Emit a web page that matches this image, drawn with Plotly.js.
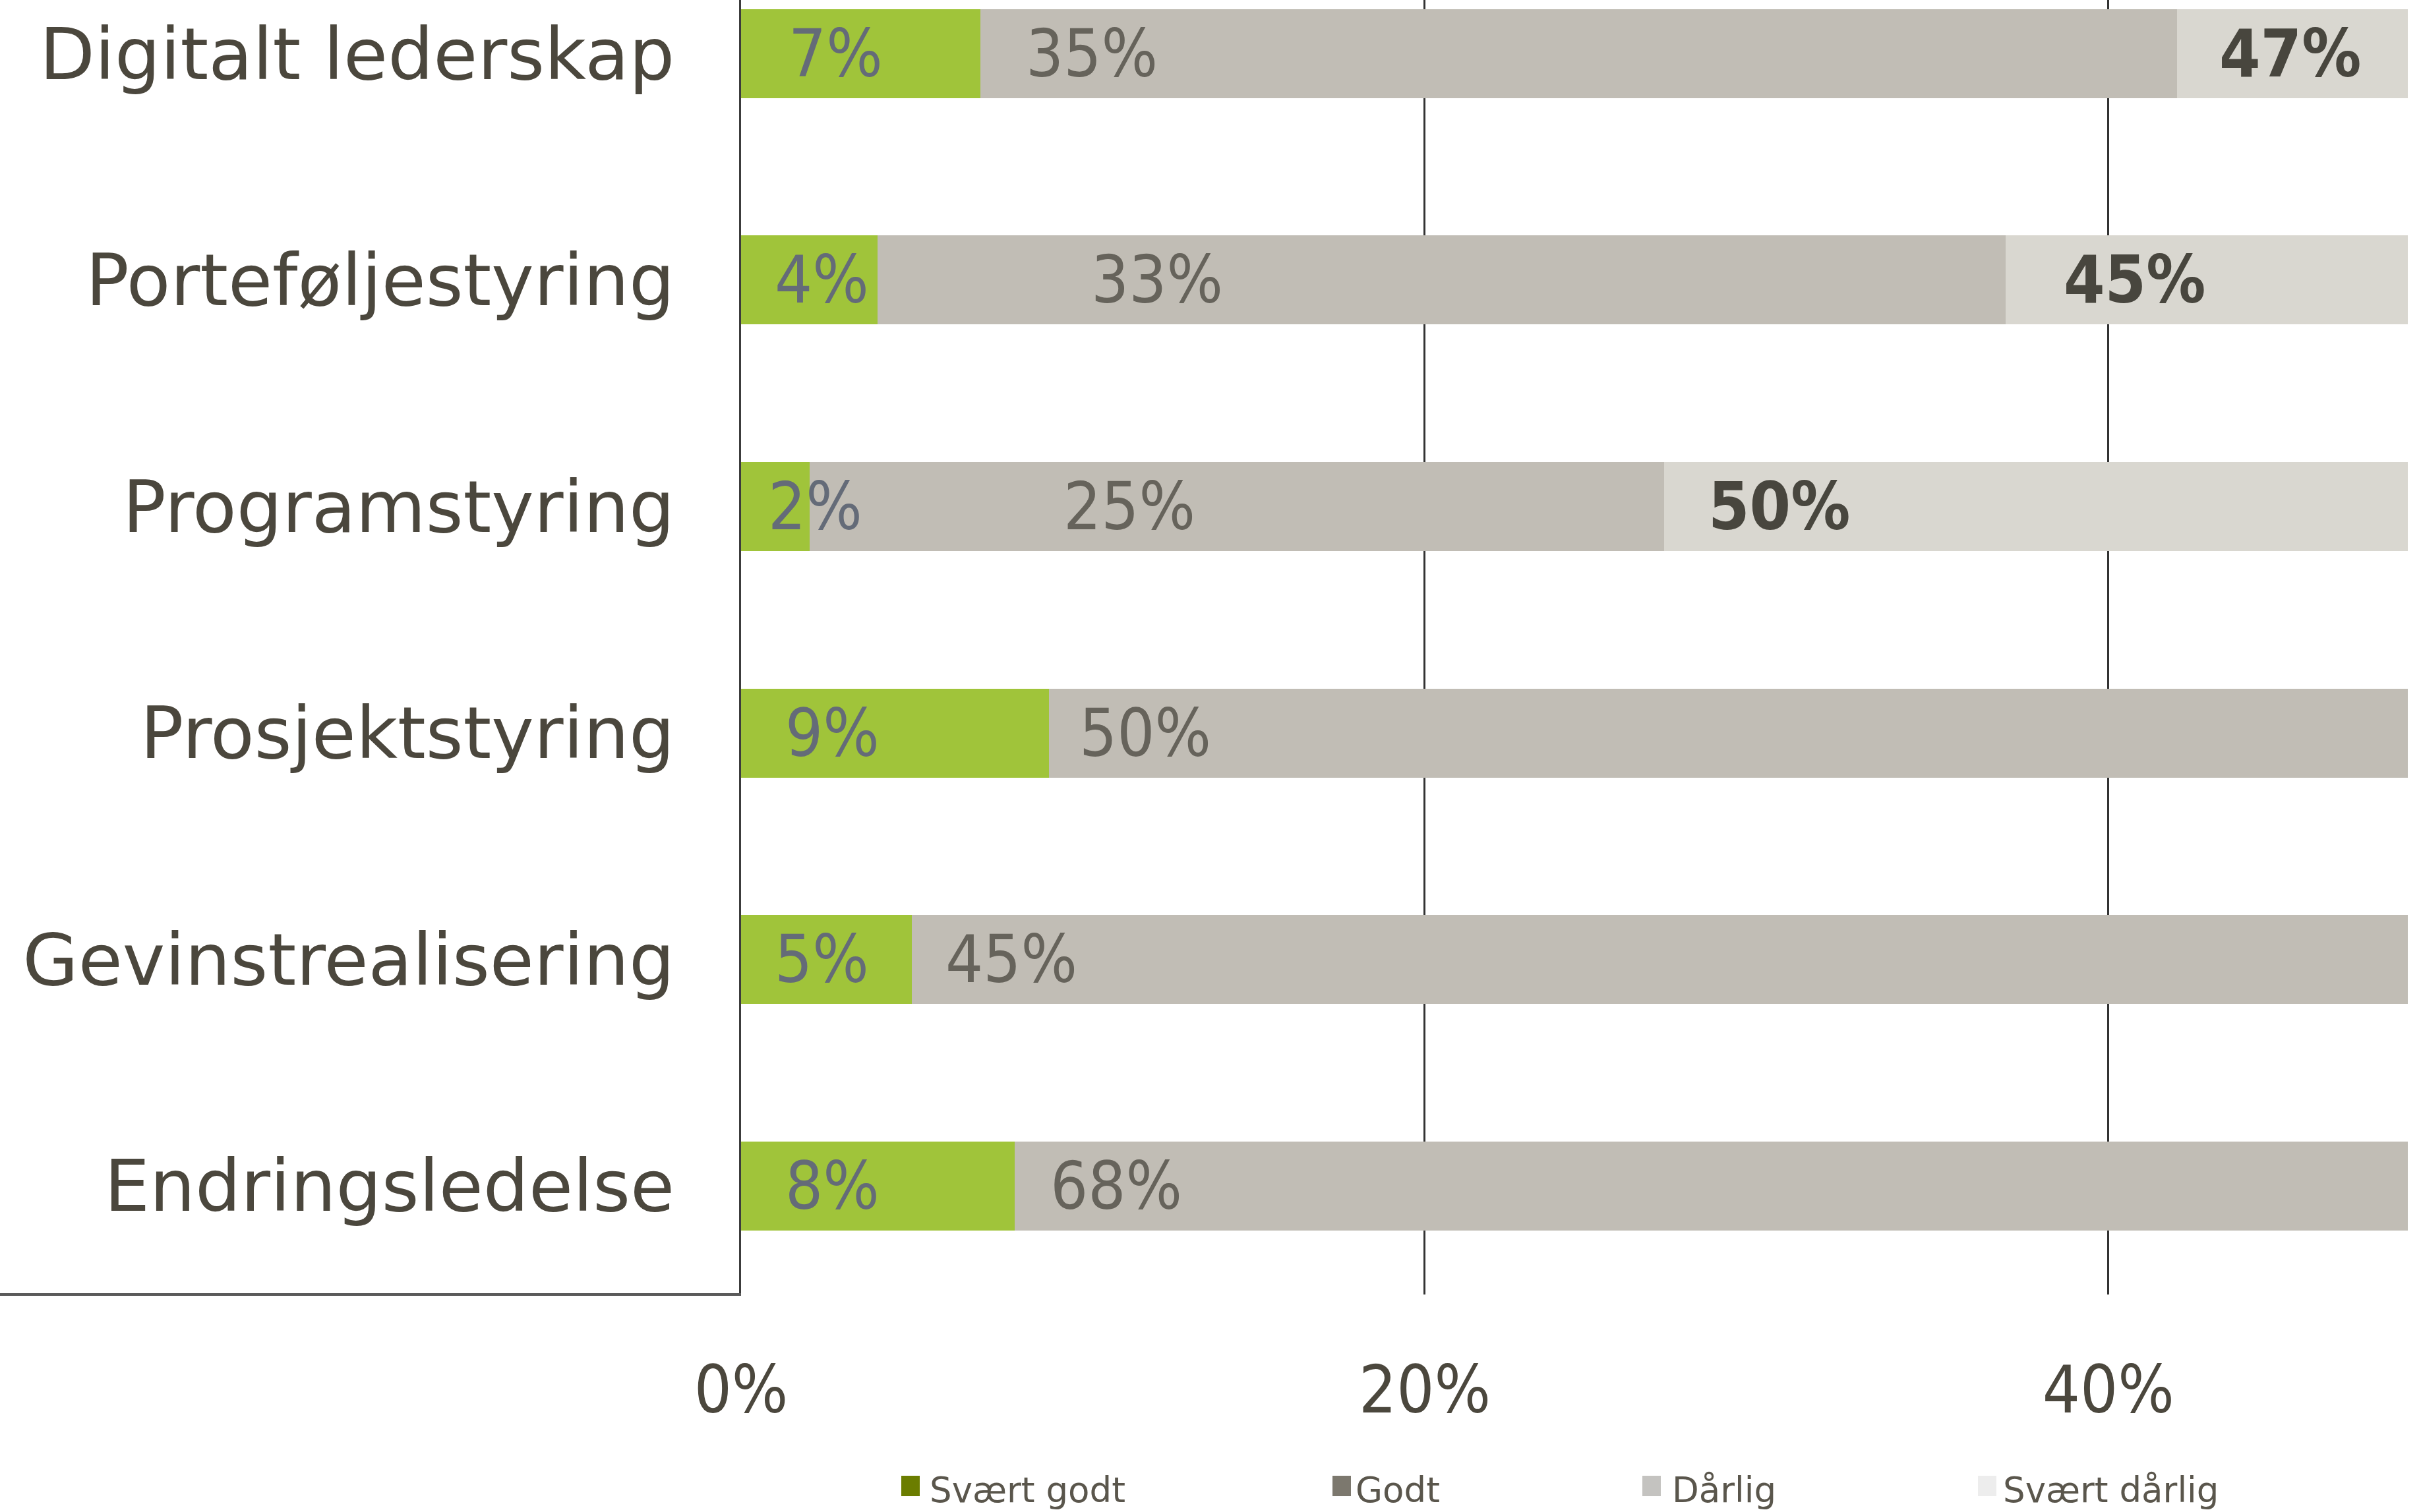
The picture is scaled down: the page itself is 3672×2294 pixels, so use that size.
<!DOCTYPE html>
<html>
<head>
<meta charset="utf-8">
<script src="https://cdn.plot.ly/plotly-3.0.1.min.js"></script>
<style>
  html, body { margin: 0; padding: 0; background: #ffffff; }
  #chart { width: 3672px; height: 2294px; }
</style>
</head>
<body>
<div id="chart"></div>
<script>
// Categories, top to bottom
const categories = ['Digitalt lederskap', 'Porteføljestyring', 'Programstyring', 'Prosjektstyring', 'Gevinstrealisering', 'Endringsledelse'];

// Series names
const seriesNames = ['Svært godt', 'Godt', 'Dårlig', 'Svært dårlig'];

// Shares in percent per category (null = not shown)
const svaertGodt = [7, 4, 2, 9, 5, 8];
const godt = [35, 33, 25, 50, 45, 68];
const daarlig = [47, 45, 50, null, null, null];
const svaertDaarlig = [null, null, null, null, null, null];

// Axis ticks
const xTickValues = [0, 20, 40];
const xTickLabels = ['0%', '20%', '40%'];

// ---- styling ----
const W = 3672, H = 2294;
const M = { l: 1124, r: 20, t: 0, b: 330 };
const plotW = W - M.l - M.r, plotH = H - M.t - M.b;
const px = x => (x - M.l) / plotW;          // page x -> paper x
const py = y => (plotH + M.t - y) / plotH;  // page y -> paper y

const barColors = ['#a0c43a', '#c1bdb5', '#d9d7d0', '#ecebe6'];
const swatchColors = ['#6b7d00', '#7c786e', '#c4c3c0', '#ededed'];
const labelColors = ['#646b78', '#66635b', '#48463e'];
const labelBold = [false, false, true];
const labelFont = '"DejaVu Sans Condensed", "Open Sans", "DejaVu Sans", sans-serif';
const textColor = '#4b473d';

// label offset from the start of each segment, in axis units
const labelShift = [
  [1.35, 0.95, 0.75, 1.25, 0.95, 1.25],
  [1.3, 6.2, 7.4, 0.85, 0.95, 1.0],
  [1.2, 1.65, 1.25, 1.2, 1.2, 1.2]
];

const seriesValues = [svaertGodt, godt, daarlig, svaertDaarlig];
const xMax = 48.76;

const traces = seriesValues.map((vals, s) => ({
  type: 'bar',
  orientation: 'h',
  name: seriesNames[s],
  y: categories,
  x: vals,
  marker: { color: barColors[s], line: { width: 0 } },
  hoverinfo: 'none',
  showlegend: false
}));

// value labels inside the segments
const annotations = [];
categories.forEach((cat, i) => {
  let start = 0;
  for (let s = 0; s < 3; s++) {
    const v = seriesValues[s][i];
    if (v == null) break;
    const x = start + labelShift[s][i];
    if (x < xMax - 2) {
      annotations.push({
        x: x, y: cat, xref: 'x', yref: 'y',
        xanchor: 'left', yanchor: 'middle',
        text: labelBold[s] ? '<b>' + v + '%</b>' : v + '%',
        showarrow: false,
        font: { family: labelFont, size: 100, color: labelColors[s] }
      });
    }
    start += v;
  }
});

// legend along the bottom
const legendX = [1367, 2021, 2491, 3000];
const legendTextX = [1408, 2054, 2534, 3036];
const shapes = [
  // rule under the category column
  { type: 'line', xref: 'paper', yref: 'paper', x0: px(0), x1: 0, y0: 0, y1: 0,
    line: { color: '#5a5a5a', width: 4 } }
];
seriesNames.forEach((name, s) => {
  shapes.push({
    type: 'rect', xref: 'paper', yref: 'paper',
    x0: px(legendX[s]), x1: px(legendX[s] + 28),
    y0: py(2270), y1: py(2239),
    fillcolor: swatchColors[s], line: { width: 0 }
  });
  annotations.push({
    x: px(legendTextX[s]), y: py(2260), xref: 'paper', yref: 'paper',
    xanchor: 'left', yanchor: 'middle', showarrow: false,
    text: name,
    font: { family: '"DejaVu Sans", sans-serif', size: 53, color: '#5a564c' }
  });
});

const layout = {
  width: W, height: H,
  margin: M,
  paper_bgcolor: '#ffffff',
  plot_bgcolor: '#ffffff',
  barmode: 'stack',
  bargap: 0.607,
  showlegend: false,
  xaxis: {
    range: [0, xMax],
    tickvals: xTickValues,
    ticktext: xTickLabels,
    showgrid: true,
    gridcolor: '#333333',
    gridwidth: 3,
    zeroline: false,
    showline: false,
    ticks: '',
    ticklabelstandoff: 78,
    tickfont: { family: labelFont, size: 100, color: textColor },
    fixedrange: true
  },
  yaxis: {
    type: 'category',
    range: [5.480, -0.237],
    showgrid: false,
    zeroline: false,
    showline: true,
    linecolor: '#3c3c3c',
    linewidth: 3,
    ticks: '',
    ticklabelstandoff: 76,
    tickfont: { family: '"DejaVu Sans", sans-serif', size: 109, color: textColor },
    fixedrange: true
  },
  shapes: shapes,
  annotations: annotations
};

Plotly.newPlot('chart', traces, layout, { displayModeBar: false, staticPlot: true });
</script>
</body>
</html>
